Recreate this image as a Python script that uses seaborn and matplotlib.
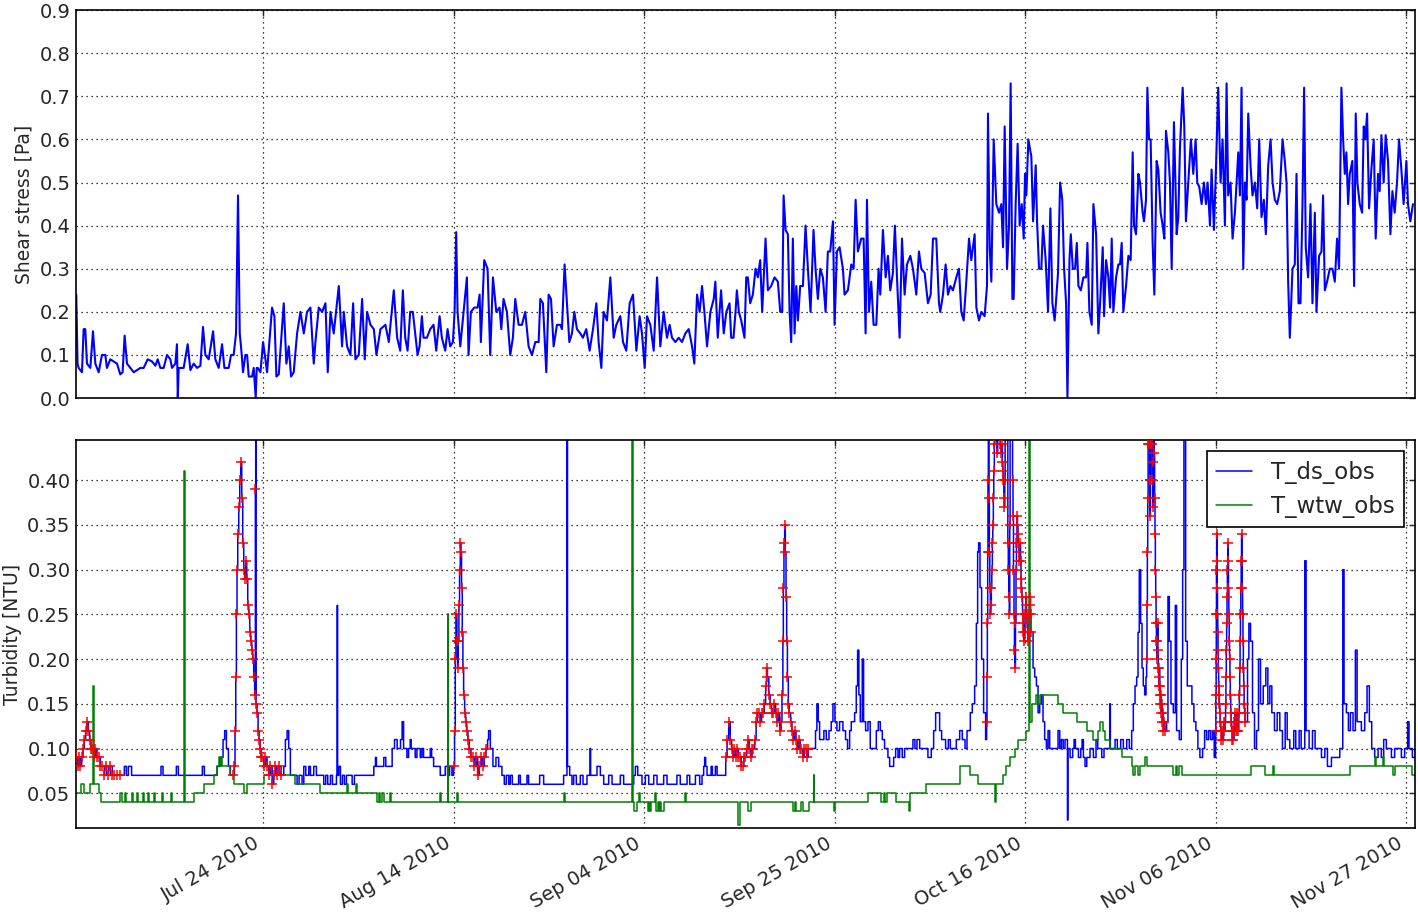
import matplotlib.pyplot as plt
import matplotlib.dates as mdates
from matplotlib.ticker import FormatStrFormatter
import numpy as np
import pandas as pd
import seaborn as sns

sns.set_style("white")
plt.rcParams["font.family"] = ["DejaVu Sans"]

# day offsets from Jul 03 2010
START = pd.Timestamp("2010-07-03")
X_RANGE = (0.38, 148.0)

# shear stress [Pa], (day, value)
shear = [
    (0.41, 0.24), (0.55, 0.08), (0.67, 0.07), (1.04, 0.06), (1.22, 0.16), (1.40, 0.16), (1.59, 0.08),
    (1.96, 0.07), (2.25, 0.155), (2.51, 0.08), (2.88, 0.06), (3.24, 0.10), (3.61, 0.10), (3.79, 0.07),
    (4.16, 0.09), (4.53, 0.085), (4.90, 0.08), (5.26, 0.055), (5.52, 0.06), (5.74, 0.145), (6.00, 0.08),
    (6.37, 0.07), (6.74, 0.06), (7.10, 0.065), (7.47, 0.07), (7.84, 0.07), (8.28, 0.09), (8.76, 0.085),
    (9.13, 0.075), (9.38, 0.09), (9.68, 0.07), (10.04, 0.07), (10.41, 0.10), (10.78, 0.09), (10.96, 0.07),
    (11.33, 0.08), (11.51, 0.125), (11.60, 0.0), (11.70, 0.07), (12.25, 0.07), (12.69, 0.125), (12.99, 0.065),
    (13.35, 0.08), (13.72, 0.07), (14.09, 0.075), (14.38, 0.165), (14.64, 0.10), (15.01, 0.09), (15.49, 0.155),
    (15.74, 0.09), (16.11, 0.07), (16.48, 0.125), (16.74, 0.07), (17.21, 0.07), (17.47, 0.10), (17.76, 0.10),
    (18.02, 0.15), (18.24, 0.47), (18.43, 0.15), (18.61, 0.11), (18.79, 0.06), (19.05, 0.10), (19.24, 0.10),
    (19.42, 0.05), (19.79, 0.05), (19.97, 0.07), (20.19, 0.0), (20.30, 0.07), (20.41, 0.07), (20.71, 0.06),
    (21.00, 0.13), (21.26, 0.09), (21.44, 0.06), (21.70, 0.13), (21.99, 0.21), (22.25, 0.19), (22.47, 0.05),
    (22.73, 0.055), (23.28, 0.22), (23.57, 0.08), (23.83, 0.12), (24.09, 0.05), (24.38, 0.06), (24.75, 0.15),
    (25.12, 0.20), (25.49, 0.15), (25.85, 0.20), (26.22, 0.21), (26.59, 0.08), (26.77, 0.13), (27.14, 0.21),
    (27.51, 0.20), (27.88, 0.22), (28.13, 0.06), (28.43, 0.20), (28.79, 0.15), (29.35, 0.26), (29.71, 0.12),
    (29.90, 0.20), (30.26, 0.12), (30.63, 0.10), (30.93, 0.22), (31.18, 0.09), (31.55, 0.10), (31.92, 0.23),
    (32.21, 0.09), (32.47, 0.20), (32.84, 0.17), (33.21, 0.16), (33.50, 0.10), (33.94, 0.16), (34.49, 0.17),
    (34.86, 0.13), (35.41, 0.25), (35.78, 0.14),
    (36.12, 0.11), (36.41, 0.25), (36.67, 0.14), (36.93, 0.11), (37.22, 0.20), (37.51, 0.20), (37.77, 0.15),
    (38.03, 0.10), (38.25, 0.12), (38.51, 0.19), (38.69, 0.14), (39.06, 0.14), (39.43, 0.16), (39.79, 0.17),
    (40.09, 0.11), (40.46, 0.19), (40.71, 0.14), (41.08, 0.11), (41.34, 0.16), (41.63, 0.12), (41.93, 0.13),
    (42.11, 0.20), (42.29, 0.385), (42.44, 0.20), (42.74, 0.12), (43.10, 0.20), (43.47, 0.28), (43.65, 0.10),
    (43.91, 0.20), (44.28, 0.21), (44.65, 0.21), (44.87, 0.24), (45.01, 0.13), (45.38, 0.32), (45.75, 0.30),
    (46.04, 0.10), (46.34, 0.28), (46.71, 0.20), (47.07, 0.21), (47.26, 0.16), (47.51, 0.23), (47.88, 0.20),
    (48.25, 0.10), (48.54, 0.14), (48.80, 0.23), (49.17, 0.17), (49.54, 0.17), (49.90, 0.20), (50.27, 0.12),
    (50.64, 0.10), (51.01, 0.13), (51.38, 0.13), (51.56, 0.23), (51.85, 0.22), (52.22, 0.06), (52.48, 0.24),
    (52.74, 0.23), (53.03, 0.12), (53.40, 0.17), (53.76, 0.17), (53.95, 0.16), (54.24, 0.31), (54.50, 0.22),
    (54.76, 0.13), (55.05, 0.15), (55.31, 0.20), (55.60, 0.16), (55.97, 0.15), (56.26, 0.14), (56.63, 0.16),
    (57.00, 0.11), (57.37, 0.16), (57.74, 0.22), (57.99, 0.13), (58.29, 0.07), (58.54, 0.20), (58.91, 0.18),
    (59.28, 0.28), (59.65, 0.14), (59.94, 0.17), (60.38, 0.19), (60.68, 0.13), (61.04, 0.11), (61.41, 0.22),
    (61.78, 0.24), (62.15, 0.11), (62.51, 0.19), (62.77, 0.15), (63.07, 0.07), (63.32, 0.19), (63.69, 0.17),
    (64.06, 0.11), (64.43, 0.28), (64.79, 0.12), (65.16, 0.20), (65.53, 0.14), (65.82, 0.17), (66.08, 0.14),
    (66.45, 0.13), (66.82, 0.14), (67.18, 0.13), (67.55, 0.15), (67.92, 0.16), (68.29, 0.12), (68.54, 0.08),
    (68.84, 0.24), (69.13, 0.20), (69.39, 0.26), (69.65, 0.20), (69.94, 0.12), (70.31, 0.20), (70.68, 0.23),
    (70.86, 0.27), (71.12, 0.14), (71.49, 0.25), (71.78, 0.15), (72.07, 0.20),
    (72.42, 0.22), (72.60, 0.14), (72.86, 0.14), (73.08, 0.20), (73.23, 0.25), (73.45, 0.20), (73.71, 0.18),
    (74.07, 0.14), (74.26, 0.28), (74.44, 0.28), (74.70, 0.22), (74.99, 0.24), (75.29, 0.30), (75.54, 0.28),
    (75.80, 0.32), (76.02, 0.20), (76.39, 0.37), (76.65, 0.25), (77.01, 0.26), (77.38, 0.28), (77.75, 0.27),
    (78.01, 0.20), (78.23, 0.20), (78.38, 0.47), (78.60, 0.39), (78.85, 0.38), (79.04, 0.20), (79.22, 0.13),
    (79.40, 0.37), (79.59, 0.15), (79.78, 0.26), (79.96, 0.18), (80.21, 0.26), (80.51, 0.26), (80.80, 0.40),
    (81.06, 0.30), (81.35, 0.20), (81.68, 0.39), (81.90, 0.30), (82.16, 0.23), (82.42, 0.30), (82.71, 0.28),
    (83.01, 0.20), (83.26, 0.34), (83.52, 0.34), (83.82, 0.41), (84.00, 0.17), (84.26, 0.34), (84.55, 0.35),
    (84.92, 0.30), (85.10, 0.24), (85.47, 0.25), (85.84, 0.31), (86.10, 0.30), (86.32, 0.46), (86.57, 0.34),
    (86.94, 0.37), (87.20, 0.37), (87.42, 0.15), (87.57, 0.46), (87.79, 0.20), (88.04, 0.27), (88.30, 0.17),
    (88.60, 0.17), (88.85, 0.30), (89.04, 0.24), (89.33, 0.39), (89.63, 0.28), (89.88, 0.33), (90.14, 0.25),
    (90.43, 0.29), (90.65, 0.40), (90.88, 0.28), (91.17, 0.14), (91.43, 0.37), (91.72, 0.24), (91.98, 0.31),
    (92.35, 0.33), (92.64, 0.30), (93.01, 0.24), (93.30, 0.34), (93.56, 0.30), (93.93, 0.29), (94.29, 0.22),
    (94.59, 0.24), (94.85, 0.37), (95.21, 0.37), (95.51, 0.22), (95.65, 0.20), (95.95, 0.24), (96.24, 0.31),
    (96.50, 0.24), (96.76, 0.26), (97.05, 0.25), (97.42, 0.28), (97.71, 0.30), (97.97, 0.20), (98.23, 0.18),
    (98.52, 0.27), (98.82, 0.37), (99.07, 0.32), (99.44, 0.38), (99.63, 0.21), (99.92, 0.18), (100.18, 0.20),
    (100.54, 0.19), (100.80, 0.26), (100.91, 0.66), (101.10, 0.35), (101.28, 0.27), (101.54, 0.60), (101.83, 0.45),
    (102.13, 0.43), (102.38, 0.45), (102.57, 0.35), (102.75, 0.63), (103.01, 0.30), (103.23, 0.40), (103.41, 0.73),
    (103.60, 0.23), (103.74, 0.23), (103.96, 0.45), (104.18, 0.59), (104.40, 0.40), (104.63, 0.45), (104.85, 0.37),
    (104.99, 0.52), (105.14, 0.47), (105.36, 0.60), (105.69, 0.56), (105.88, 0.41), (106.17, 0.54), (106.32, 0.41),
    (106.54, 0.30), (106.79, 0.30), (106.98, 0.40), (107.27, 0.32), (107.53, 0.20), (107.79, 0.44), (108.01, 0.22),
    (108.26, 0.18), (108.63, 0.29),
    (108.86, 0.50), (109.10, 0.46), (109.30, 0.30), (109.52, 0.22), (109.67, 0.0), (109.89, 0.32), (110.04, 0.38),
    (110.26, 0.30), (110.51, 0.30), (110.70, 0.36), (110.88, 0.26), (111.14, 0.25), (111.43, 0.28), (111.72, 0.28),
    (111.87, 0.36), (112.09, 0.20), (112.35, 0.17), (112.53, 0.45), (112.83, 0.38), (113.08, 0.15), (113.27, 0.22),
    (113.56, 0.35), (113.71, 0.19), (113.93, 0.32), (114.18, 0.28), (114.37, 0.21), (114.55, 0.37), (114.73, 0.20),
    (115.03, 0.28), (115.28, 0.31), (115.47, 0.31), (115.65, 0.36), (115.83, 0.20), (116.13, 0.26), (116.39, 0.33),
    (116.64, 0.32), (116.86, 0.57), (117.01, 0.40), (117.23, 0.38), (117.49, 0.52), (117.67, 0.50), (117.96, 0.43),
    (118.11, 0.41), (118.33, 0.46), (118.48, 0.72), (118.66, 0.60), (118.84, 0.60), (119.06, 0.36), (119.25, 0.24),
    (119.50, 0.55), (119.69, 0.53), (119.94, 0.43), (120.17, 0.40), (120.35, 0.37), (120.53, 0.62), (120.79, 0.57),
    (120.97, 0.50), (121.16, 0.30), (121.41, 0.64), (121.71, 0.38), (121.89, 0.42), (122.07, 0.58), (122.37, 0.72),
    (122.55, 0.63), (122.73, 0.41), (122.99, 0.50), (123.28, 0.60), (123.54, 0.52), (123.80, 0.60), (123.98, 0.50),
    (124.20, 0.49), (124.46, 0.45), (124.72, 0.50), (124.94, 0.45), (125.12, 0.50), (125.38, 0.40), (125.56, 0.53),
    (125.82, 0.39), (126.04, 0.53), (126.29, 0.72), (126.55, 0.50), (126.77, 0.60), (127.03, 0.40), (127.21, 0.73),
    (127.39, 0.47), (127.65, 0.50), (127.87, 0.37), (128.13, 0.43), (128.50, 0.57), (128.68, 0.47), (128.86, 0.72),
    (129.05, 0.30), (129.23, 0.50), (129.41, 0.46), (129.60, 0.66), (129.85, 0.54), (130.07, 0.47), (130.33, 0.50),
    (130.59, 0.44), (130.81, 0.60), (131.06, 0.42), (131.32, 0.46), (131.54, 0.38), (131.80, 0.54), (132.06, 0.60),
    (132.28, 0.50), (132.53, 0.46), (132.79, 0.45), (133.08, 0.48), (133.38, 0.60), (133.63, 0.55), (133.82, 0.50),
    (134.00, 0.27), (134.18, 0.14), (134.48, 0.30), (134.73, 0.31), (134.92, 0.52), (135.14, 0.22), (135.36, 0.22),
    (135.58, 0.45), (135.76, 0.72), (135.94, 0.35), (136.20, 0.28), (136.46, 0.45), (136.68, 0.22), (136.94, 0.43),
    (137.12, 0.20), (137.41, 0.33), (137.67, 0.34), (137.85, 0.47), (138.04, 0.25), (138.29, 0.27), (138.59, 0.30),
    (138.88, 0.30), (139.14, 0.27), (139.39, 0.37), (139.61, 0.30), (139.87, 0.72), (140.06, 0.60), (140.24, 0.52),
    (140.42, 0.57), (140.61, 0.45), (140.79, 0.52), (141.08, 0.55), (141.27, 0.26), (141.45, 0.66), (141.63, 0.50),
    (141.89, 0.45), (142.15, 0.43), (142.33, 0.63), (142.51, 0.60), (142.70, 0.66), (142.92, 0.44), (143.17, 0.53),
    (143.43, 0.60), (143.65, 0.37), (143.91, 0.52), (144.09, 0.48), (144.28, 0.61), (144.53, 0.50), (144.75, 0.61),
    (145.01, 0.55), (145.27, 0.38), (145.49, 0.48), (145.74, 0.43), (146.00, 0.50), (146.22, 0.60), (146.48, 0.53),
    (146.73, 0.45), (147.03, 0.55), (147.21, 0.45), (147.47, 0.41), (147.76, 0.45),
]

# T_ds_obs turbidity [NTU], step breakpoints (day, value)
t_ds = [
    (0.41, 0.09), (0.56, 0.08), (0.71, 0.09), (0.85, 0.08), (1.00, 0.09), (1.15, 0.10), (1.29, 0.11),
    (1.44, 0.12), (1.59, 0.13), (1.74, 0.12), (1.88, 0.11), (2.03, 0.10), (2.18, 0.10), (2.32, 0.09),
    (2.51, 0.10), (2.69, 0.09), (2.88, 0.09), (3.06, 0.08), (3.28, 0.08), (3.50, 0.07), (3.72, 0.08),
    (3.94, 0.07), (4.16, 0.08), (4.38, 0.07), (4.60, 0.07), (4.90, 0.07), (5.19, 0.07),
    (5.71, 0.08), (5.93, 0.07), (6.15, 0.08), (6.51, 0.07), (9.75, 0.08), (9.97, 0.07), (11.44, 0.08),
    (11.66, 0.07), (14.31, 0.08), (14.53, 0.07), (15.93, 0.08), (16.29, 0.09), (16.59, 0.11), (16.77, 0.12),
    (16.96, 0.10), (17.18, 0.08), (17.40, 0.07),
    (17.69, 0.07), (17.84, 0.08), (17.91, 0.12), (17.99, 0.18), (18.06, 0.25), (18.13, 0.30), (18.21, 0.34),
    (18.32, 0.37), (18.43, 0.40), (18.54, 0.42), (18.65, 0.38), (18.76, 0.33), (18.87, 0.30), (18.98, 0.29),
    (19.09, 0.31), (19.20, 0.29), (19.31, 0.26), (19.42, 0.25), (19.53, 0.23), (19.64, 0.22), (19.75, 0.21),
    (19.86, 0.20), (19.97, 0.18), (20.08, 0.16), (20.15, 0.39), (20.19, 0.60), (20.23, 0.15), (20.34, 0.14),
    (20.45, 0.12), (20.56, 0.11), (20.67, 0.10), (20.78, 0.09), (20.93, 0.09), (21.07, 0.08), (21.26, 0.09),
    (21.44, 0.08), (21.63, 0.07), (21.81, 0.08), (22.00, 0.06), (22.18, 0.07), (22.36, 0.08), (22.54, 0.07),
    (22.76, 0.08), (22.99, 0.07),
    (23.28, 0.08), (23.46, 0.11), (23.65, 0.12), (23.83, 0.10), (24.01, 0.07), (24.75, 0.06), (24.97, 0.07),
    (25.30, 0.06), (25.49, 0.08), (25.71, 0.07), (26.04, 0.08), (26.22, 0.07), (26.59, 0.08), (26.88, 0.07),
    (27.69, 0.06), (27.91, 0.07), (28.13, 0.06), (28.43, 0.07), (28.65, 0.06), (29.09, 0.07), (29.16, 0.26),
    (29.22, 0.07), (29.35, 0.08), (29.53, 0.06), (29.75, 0.07), (29.97, 0.06), (30.19, 0.07), (30.82, 0.06),
    (31.07, 0.07), (33.21, 0.08), (33.39, 0.09), (33.50, 0.08), (34.31, 0.09), (34.53, 0.08), (35.23, 0.10),
    (35.49, 0.11), (35.78, 0.10), (36.15, 0.11), (36.33, 0.13), (36.49, 0.10), (36.86, 0.09), (37.04, 0.10),
    (37.22, 0.11), (37.33, 0.10), (37.77, 0.09), (37.96, 0.10), (38.33, 0.09), (38.51, 0.10), (38.69, 0.09),
    (39.43, 0.10), (39.58, 0.09), (39.80, 0.08), (40.53, 0.07), (41.08, 0.08), (41.34, 0.07), (41.56, 0.08),
    (41.82, 0.07), (42.00, 0.08),
    (42.11, 0.12), (42.19, 0.20), (42.26, 0.25), (42.37, 0.22), (42.44, 0.19), (42.52, 0.22), (42.59, 0.26),
    (42.66, 0.30), (42.74, 0.33), (42.81, 0.32), (42.88, 0.28), (42.96, 0.23), (43.03, 0.19), (43.11, 0.16),
    (43.22, 0.14), (43.33, 0.13), (43.44, 0.12), (43.58, 0.11), (43.73, 0.10), (43.91, 0.09), (44.10, 0.09),
    (44.28, 0.08), (44.47, 0.09), (44.65, 0.07), (44.83, 0.08), (45.02, 0.09), (45.20, 0.08), (45.38, 0.09),
    (45.57, 0.10),
    (45.75, 0.11), (45.86, 0.12), (46.05, 0.10), (46.34, 0.08), (46.67, 0.09), (46.97, 0.08), (47.33, 0.07),
    (47.59, 0.06), (47.81, 0.07), (48.07, 0.06), (48.25, 0.07), (48.47, 0.06), (49.17, 0.07), (49.36, 0.06),
    (50.09, 0.07), (50.27, 0.06), (51.49, 0.07), (51.93, 0.06), (54.13, 0.07), (54.50, 0.60), (54.56, 0.08),
    (54.80, 0.07), (55.05, 0.06), (55.24, 0.07), (55.53, 0.06), (55.97, 0.07), (56.27, 0.06), (56.71, 0.07),
    (57.04, 0.10), (57.11, 0.07), (57.81, 0.08), (58.18, 0.07), (58.55, 0.06), (59.10, 0.07), (59.47, 0.06),
    (60.38, 0.07), (60.75, 0.06), (61.86, 0.07), (62.04, 0.08), (62.30, 0.07), (62.77, 0.06), (63.14, 0.07),
    (63.51, 0.06), (64.06, 0.07), (64.43, 0.06), (65.16, 0.07), (65.53, 0.06), (66.62, 0.07), (66.99, 0.06),
    (67.74, 0.07), (68.03, 0.06), (68.66, 0.07), (69.13, 0.06), (69.39, 0.07), (69.57, 0.08), (69.68, 0.09),
    (69.79, 0.08), (69.94, 0.07), (70.39, 0.08), (70.53, 0.07), (70.86, 0.08), (71.05, 0.07),
    (72.00, 0.09), (72.15, 0.11), (72.33, 0.13), (72.50, 0.11), (72.65, 0.10), (72.80, 0.09), (72.95, 0.10),
    (73.10, 0.09), (73.25, 0.10), (73.40, 0.09), (73.55, 0.09), (73.70, 0.08), (73.85, 0.08), (74.00, 0.09),
    (74.15, 0.09), (74.30, 0.10), (74.45, 0.11), (74.60, 0.10), (74.75, 0.09), (74.90, 0.10), (75.05, 0.10),
    (75.20, 0.11), (75.35, 0.13), (75.50, 0.14), (75.65, 0.14), (75.80, 0.13), (75.95, 0.14), (76.10, 0.14),
    (76.25, 0.15), (76.40, 0.17), (76.50, 0.19), (76.60, 0.18), (76.75, 0.16), (76.90, 0.15), (77.05, 0.14),
    (77.20, 0.14), (77.35, 0.15), (77.50, 0.14), (77.65, 0.13), (77.80, 0.14), (77.95, 0.12), (78.10, 0.13),
    (78.20, 0.16), (78.30, 0.22), (78.35, 0.28), (78.42, 0.33), (78.50, 0.35), (78.57, 0.32), (78.65, 0.27),
    (78.72, 0.22), (78.80, 0.18), (78.90, 0.15), (79.00, 0.14), (79.15, 0.13), (79.30, 0.12), (79.45, 0.11),
    (79.60, 0.12), (79.75, 0.11), (79.90, 0.10), (80.05, 0.11), (80.20, 0.10), (80.35, 0.10), (80.50, 0.09),
    (80.65, 0.10), (80.80, 0.10), (80.95, 0.09), (81.10, 0.10),
    (81.90, 0.12), (82.05, 0.15), (82.20, 0.13), (82.35, 0.11), (82.82, 0.12), (83.08, 0.11), (83.38, 0.12),
    (83.63, 0.13), (83.82, 0.15), (84.04, 0.13), (84.26, 0.12), (84.55, 0.13), (84.92, 0.12), (85.21, 0.11),
    (85.43, 0.10), (85.66, 0.12), (85.84, 0.13), (86.21, 0.14), (86.39, 0.17), (86.54, 0.21), (86.68, 0.16),
    (86.83, 0.13), (87.05, 0.20), (87.20, 0.13), (87.42, 0.12), (87.68, 0.13), (87.93, 0.10), (88.60, 0.12),
    (88.82, 0.13), (89.04, 0.12), (89.26, 0.11), (89.51, 0.10), (89.88, 0.09), (90.07, 0.08), (90.51, 0.09),
    (90.73, 0.10), (90.99, 0.09), (91.17, 0.10), (91.46, 0.09), (91.72, 0.10), (92.64, 0.11), (92.86, 0.10),
    (93.08, 0.11), (93.38, 0.10), (94.29, 0.09), (94.66, 0.10), (94.92, 0.12), (95.14, 0.14), (95.58, 0.12),
    (95.80, 0.11), (96.24, 0.10), (96.54, 0.11), (96.76, 0.10), (97.42, 0.11), (97.79, 0.12), (98.08, 0.11),
    (98.38, 0.10), (98.60, 0.12), (98.96, 0.14), (99.18, 0.15), (99.44, 0.17), (99.63, 0.24), (99.77, 0.32),
    (99.88, 0.33), (100.03, 0.28), (100.21, 0.20), (100.43, 0.14), (100.65, 0.11),
    (100.76, 0.13), (100.80, 0.18), (100.84, 0.24), (100.88, 0.32), (100.91, 0.40), (100.95, 0.60), (101.02, 0.38),
    (101.06, 0.32), (101.11, 0.28), (101.17, 0.25), (101.22, 0.26), (101.28, 0.28), (101.33, 0.30), (101.39, 0.33),
    (101.44, 0.35), (101.50, 0.38), (101.55, 0.41), (101.61, 0.44), (101.66, 0.60), (101.90, 0.43), (101.98, 0.60),
    (102.28, 0.44), (102.35, 0.43), (102.42, 0.44), (102.50, 0.42), (102.55, 0.41), (102.60, 0.40), (102.66, 0.38),
    (102.71, 0.37), (102.76, 0.40), (102.80, 0.60), (103.10, 0.33), (103.15, 0.30), (103.20, 0.27), (103.26, 0.25),
    (103.31, 0.35), (103.35, 0.60), (103.62, 0.40), (103.67, 0.36), (103.72, 0.30), (103.78, 0.25), (103.83, 0.21),
    (103.89, 0.19), (103.94, 0.24), (104.00, 0.30), (104.05, 0.33), (104.11, 0.36), (104.16, 0.35), (104.22, 0.34),
    (104.27, 0.33), (104.33, 0.32), (104.38, 0.31), (104.44, 0.33), (104.50, 0.31), (104.55, 0.29), (104.60, 0.28),
    (104.66, 0.27), (104.72, 0.25), (104.77, 0.24), (104.82, 0.23), (104.88, 0.22), (104.94, 0.23), (104.99, 0.25),
    (105.05, 0.26), (105.10, 0.27), (105.16, 0.25), (105.21, 0.24), (105.27, 0.23), (105.32, 0.22), (105.38, 0.23),
    (105.43, 0.25), (105.49, 0.26), (105.54, 0.27), (105.60, 0.25), (105.65, 0.23),
    (105.88, 0.19), (106.06, 0.18), (106.25, 0.17), (106.43, 0.14), (106.61, 0.15), (106.79, 0.16), (106.98, 0.13),
    (107.16, 0.11), (107.35, 0.10), (107.53, 0.12), (107.71, 0.10), (108.63, 0.12), (108.82, 0.10), (109.00, 0.11),
    (109.20, 0.10), (109.40, 0.11), (109.67, 0.02), (109.72, 0.10), (109.96, 0.09), (110.25, 0.10), (110.40, 0.11),
    (110.55, 0.10), (110.88, 0.09), (111.14, 0.10), (111.28, 0.11), (111.43, 0.09), (111.61, 0.08), (111.80, 0.09),
    (112.16, 0.10), (112.53, 0.09), (112.82, 0.11), (113.01, 0.10), (113.45, 0.09), (113.70, 0.10), (114.33, 0.15),
    (114.40, 0.10), (114.92, 0.11), (115.17, 0.10), (115.54, 0.11), (115.83, 0.10), (116.20, 0.11), (116.49, 0.10),
    (116.75, 0.12), (116.93, 0.15), (117.12, 0.17), (117.30, 0.18), (117.45, 0.23), (117.59, 0.30), (117.74, 0.24),
    (117.89, 0.19), (118.03, 0.17), (118.18, 0.16), (118.33, 0.18),
    (118.40, 0.20), (118.44, 0.26), (118.48, 0.32), (118.52, 0.38), (118.56, 0.44), (118.60, 0.60), (118.70, 0.44),
    (118.74, 0.40), (118.78, 0.36), (118.82, 0.40), (118.86, 0.44), (118.90, 0.60), (119.00, 0.44), (119.04, 0.40),
    (119.08, 0.37), (119.12, 0.42), (119.16, 0.60), (119.24, 0.43), (119.28, 0.38), (119.32, 0.34), (119.36, 0.30),
    (119.40, 0.27), (119.44, 0.24), (119.48, 0.22), (119.52, 0.20), (119.56, 0.22), (119.60, 0.24), (119.64, 0.21),
    (119.68, 0.19), (119.72, 0.18), (119.76, 0.17), (119.80, 0.19), (119.84, 0.17), (119.88, 0.16), (119.92, 0.15),
    (119.96, 0.16), (120.00, 0.14), (120.06, 0.15), (120.12, 0.13), (120.18, 0.14), (120.24, 0.12), (120.32, 0.13),
    (120.40, 0.12),
    (120.60, 0.13), (120.75, 0.27), (120.90, 0.22), (121.08, 0.15), (121.34, 0.14), (121.56, 0.26), (121.70, 0.12),
    (122.00, 0.11), (122.22, 0.20), (122.37, 0.30), (122.51, 0.60), (122.70, 0.22), (122.88, 0.17), (123.17, 0.17),
    (123.39, 0.15), (123.61, 0.13), (123.83, 0.12), (124.05, 0.10), (124.27, 0.09), (124.57, 0.10), (124.79, 0.12),
    (125.01, 0.11), (125.23, 0.12), (125.45, 0.11), (125.67, 0.12), (125.85, 0.09),
    (126.00, 0.12), (126.03, 0.16), (126.06, 0.20), (126.08, 0.25), (126.10, 0.30), (126.12, 0.34), (126.15, 0.31),
    (126.18, 0.28), (126.21, 0.25), (126.24, 0.23), (126.27, 0.21), (126.30, 0.19), (126.34, 0.17), (126.38, 0.16),
    (126.42, 0.15), (126.47, 0.14), (126.52, 0.13), (126.58, 0.12), (126.65, 0.11), (126.72, 0.12), (126.80, 0.11),
    (126.88, 0.13), (126.96, 0.12), (127.04, 0.13), (127.10, 0.15), (127.14, 0.18), (127.18, 0.21), (127.22, 0.24),
    (127.26, 0.27), (127.30, 0.30), (127.34, 0.33), (127.38, 0.31), (127.42, 0.28), (127.46, 0.25), (127.50, 0.22),
    (127.54, 0.20), (127.58, 0.18), (127.62, 0.16), (127.67, 0.14), (127.72, 0.13), (127.78, 0.12), (127.84, 0.11),
    (127.90, 0.12), (127.96, 0.11), (128.02, 0.12), (128.08, 0.13), (128.14, 0.14), (128.20, 0.12), (128.26, 0.13),
    (128.32, 0.14), (128.38, 0.12), (128.44, 0.13), (128.50, 0.12), (128.56, 0.14), (128.62, 0.16), (128.66, 0.19),
    (128.70, 0.22), (128.74, 0.25), (128.78, 0.28), (128.82, 0.31), (128.86, 0.34), (128.90, 0.31), (128.94, 0.28),
    (128.98, 0.25), (129.02, 0.22), (129.06, 0.19), (129.10, 0.17), (129.15, 0.15), (129.20, 0.14), (129.26, 0.13),
    (129.52, 0.20), (129.67, 0.24), (129.85, 0.22), (130.07, 0.14), (130.29, 0.10), (130.51, 0.12), (130.73, 0.20),
    (130.95, 0.15), (131.25, 0.17), (131.54, 0.19), (131.76, 0.15), (131.98, 0.17), (132.20, 0.14), (132.49, 0.12),
    (132.79, 0.14), (133.08, 0.12), (133.37, 0.10), (133.67, 0.14), (133.89, 0.11), (134.18, 0.10), (134.62, 0.12),
    (134.84, 0.10), (135.21, 0.12), (135.43, 0.10), (135.83, 0.31), (135.98, 0.12), (136.31, 0.10), (136.68, 0.12),
    (136.97, 0.10), (137.67, 0.09), (138.04, 0.10), (138.33, 0.08), (138.77, 0.09), (139.69, 0.10), (140.02, 0.30),
    (140.16, 0.15), (140.42, 0.14), (140.64, 0.12), (140.86, 0.14), (141.15, 0.12), (141.41, 0.21), (141.60, 0.13),
    (142.07, 0.12), (142.44, 0.14), (142.70, 0.17), (142.95, 0.13), (143.21, 0.10), (143.54, 0.09), (143.91, 0.10),
    (144.27, 0.09), (144.53, 0.11), (144.82, 0.10), (145.38, 0.09), (145.74, 0.10), (146.48, 0.09), (146.84, 0.10),
    (147.17, 0.13), (147.32, 0.10), (147.69, 0.09), (148.00, 0.10),
]

# T_wtw_obs turbidity [NTU], step breakpoints (day, value)
t_wtw = [
    (0.41, 0.05), (0.96, 0.06), (1.22, 0.05), (1.96, 0.06), (2.30, 0.17), (2.36, 0.06), (2.88, 0.05),
    (3.13, 0.04), (5.26, 0.05), (5.45, 0.04), (5.82, 0.05), (5.93, 0.04), (6.55, 0.05), (6.66, 0.04),
    (7.10, 0.05), (7.20, 0.04), (7.74, 0.05), (7.92, 0.04), (8.35, 0.05), (8.45, 0.04), (8.94, 0.05),
    (9.05, 0.04), (9.86, 0.05), (9.97, 0.04), (10.89, 0.05), (11.00, 0.04), (12.30, 0.41), (12.36, 0.04),
    (13.35, 0.05), (14.46, 0.06), (15.56, 0.07), (15.93, 0.08), (16.11, 0.09), (16.22, 0.08), (16.37, 0.09),
    (16.51, 0.08), (17.32, 0.07), (17.84, 0.06), (18.87, 0.05), (19.24, 0.06), (21.07, 0.07), (24.57, 0.06),
    (27.32, 0.05), (30.26, 0.06), (30.37, 0.05), (31.26, 0.06), (31.37, 0.05), (33.57, 0.04), (33.76, 0.05),
    (33.94, 0.04), (34.12, 0.05), (34.31, 0.04), (35.04, 0.05), (35.15, 0.04), (40.46, 0.05), (40.57, 0.04),
    (41.38, 0.25), (41.44, 0.04), (42.37, 0.05), (42.45, 0.04), (54.13, 0.05), (54.24, 0.04), (61.71, 0.60),
    (61.77, 0.04), (61.93, 0.03), (62.22, 0.04), (62.41, 0.05), (62.52, 0.04), (63.40, 0.03), (63.55, 0.04),
    (63.62, 0.03), (63.77, 0.04), (64.24, 0.05), (64.36, 0.03), (64.50, 0.04), (64.60, 0.03), (64.80, 0.04),
    (64.90, 0.03), (65.16, 0.04), (67.55, 0.05), (67.66, 0.04), (73.36, 0.015), (73.55, 0.04), (74.44, 0.03),
    (74.81, 0.04), (79.40, 0.03), (79.60, 0.04), (79.80, 0.03), (80.30, 0.04), (80.50, 0.03), (81.20, 0.04),
    (81.68, 0.07), (81.76, 0.04), (83.89, 0.03), (84.04, 0.04), (87.68, 0.05), (89.15, 0.04), (89.41, 0.05),
    (89.60, 0.04), (89.77, 0.05), (90.80, 0.04), (92.20, 0.03), (92.35, 0.05), (94.11, 0.06), (97.79, 0.08),
    (98.89, 0.07), (99.81, 0.06), (101.65, 0.05), (101.70, 0.04), (101.76, 0.06), (102.57, 0.07), (102.93, 0.08),
    (103.30, 0.09), (103.85, 0.10), (104.22, 0.11), (105.14, 0.12), (105.47, 0.60), (105.53, 0.13), (105.80, 0.15),
    (106.17, 0.16), (106.43, 0.15), (106.69, 0.16), (108.63, 0.15), (109.18, 0.14), (110.70, 0.13), (111.80, 0.12),
    (112.53, 0.11), (113.08, 0.12), (113.26, 0.13), (113.56, 0.12), (113.81, 0.11), (114.36, 0.10), (115.65, 0.09),
    (116.75, 0.08), (116.93, 0.07), (117.12, 0.08), (117.48, 0.07), (117.67, 0.08), (118.22, 0.09), (118.47, 0.08),
    (121.34, 0.07), (121.60, 0.08), (121.80, 0.07), (122.00, 0.08), (122.30, 0.07), (129.85, 0.08), (131.43, 0.07),
    (132.35, 0.08), (132.46, 0.07), (140.79, 0.08), (143.54, 0.09), (143.65, 0.08), (144.46, 0.09), (144.57, 0.08),
    (145.56, 0.07), (145.74, 0.08), (147.69, 0.07), (148.00, 0.07),
]

# periods where T_ds_obs points are flagged (red crosses)
flag_windows = [(0.3, 5.3), (17.6, 23.1), (41.9, 45.6), (71.9, 81.2),
                (100.75, 105.7), (118.38, 120.45), (125.95, 129.3)]

tick_days = ["2010-07-24", "2010-08-14", "2010-09-04", "2010-09-25",
             "2010-10-16", "2010-11-06", "2010-11-27"]


def to_frame(pairs):
    days, vals = zip(*pairs)
    days = np.asarray(days)
    return pd.DataFrame({"day": days,
                         "time": START + pd.to_timedelta(days, unit="D"),
                         "value": np.asarray(vals)})


df_shear = to_frame(shear)
df_ds = to_frame(t_ds)
df_wtw = to_frame(t_wtw)
flag = np.zeros(len(df_ds), dtype=bool)
for a, b in flag_windows:
    flag |= (df_ds["day"] >= a) & (df_ds["day"] <= b)
df_flag = df_ds[flag]

fig, (ax1, ax2) = plt.subplots(2, 1, figsize=(14.18, 9.13), dpi=100, sharex=True)
fig.subplots_adjust(left=0.0536, right=0.998, top=0.989, bottom=0.093, hspace=0.108)

sns.lineplot(data=df_shear, x="time", y="value", ax=ax1, color="blue", lw=1.5,
             estimator=None, sort=False)

sns.lineplot(data=df_ds, x="time", y="value", ax=ax2, color="blue", lw=1.1,
             estimator=None, sort=False, drawstyle="steps-post", label="T_ds_obs")
sns.lineplot(data=df_wtw, x="time", y="value", ax=ax2, color="green", lw=1.1,
             estimator=None, sort=False, drawstyle="steps-post", label="T_wtw_obs")
sns.scatterplot(data=df_flag, x="time", y="value", ax=ax2, marker="+", color="red",
                s=60, linewidth=1.1, legend=False, zorder=3)

xlim = (START + pd.Timedelta(days=X_RANGE[0]), START + pd.Timedelta(days=X_RANGE[1]))
ticks = pd.to_datetime(tick_days)
for ax in (ax1, ax2):
    ax.set_xlim(xlim)
    ax.set_xticks(ticks)
    ax.grid(True, color="black", linestyle=(0, (1, 3)), linewidth=0.9)
    ax.tick_params(direction="in", top=True, right=True, length=4.5, width=1,
                   labelsize=14, pad=4)
    for sp in ax.spines.values():
        sp.set_color("black")
        sp.set_linewidth(1.2)
    ax.set_xlabel("")

ax1.set_ylim(0, 0.9)
ax1.set_yticks(np.arange(0, 0.91, 0.1))
ax1.yaxis.set_major_formatter(FormatStrFormatter("%.1f"))
ax1.set_ylabel("Shear stress [Pa]", fontsize=13.5)

ax2.set_ylim(0.011, 0.445)
ax2.set_yticks([0.05, 0.10, 0.15, 0.20, 0.25, 0.30, 0.35, 0.40])
ax2.yaxis.set_major_formatter(FormatStrFormatter("%.2f"))
ax2.set_ylabel("Turbidity [NTU]", fontsize=13.5)
ax2.xaxis.set_major_formatter(mdates.DateFormatter("%b %d %Y"))
plt.setp(ax2.get_xticklabels(), rotation=30, ha="right")

leg = ax2.legend(loc="upper right", fontsize=16.5, fancybox=False, framealpha=1,
                 edgecolor="black", handlelength=1.6)
leg.get_frame().set_linewidth(1.2)

fig.savefig("out.png", dpi=100)
